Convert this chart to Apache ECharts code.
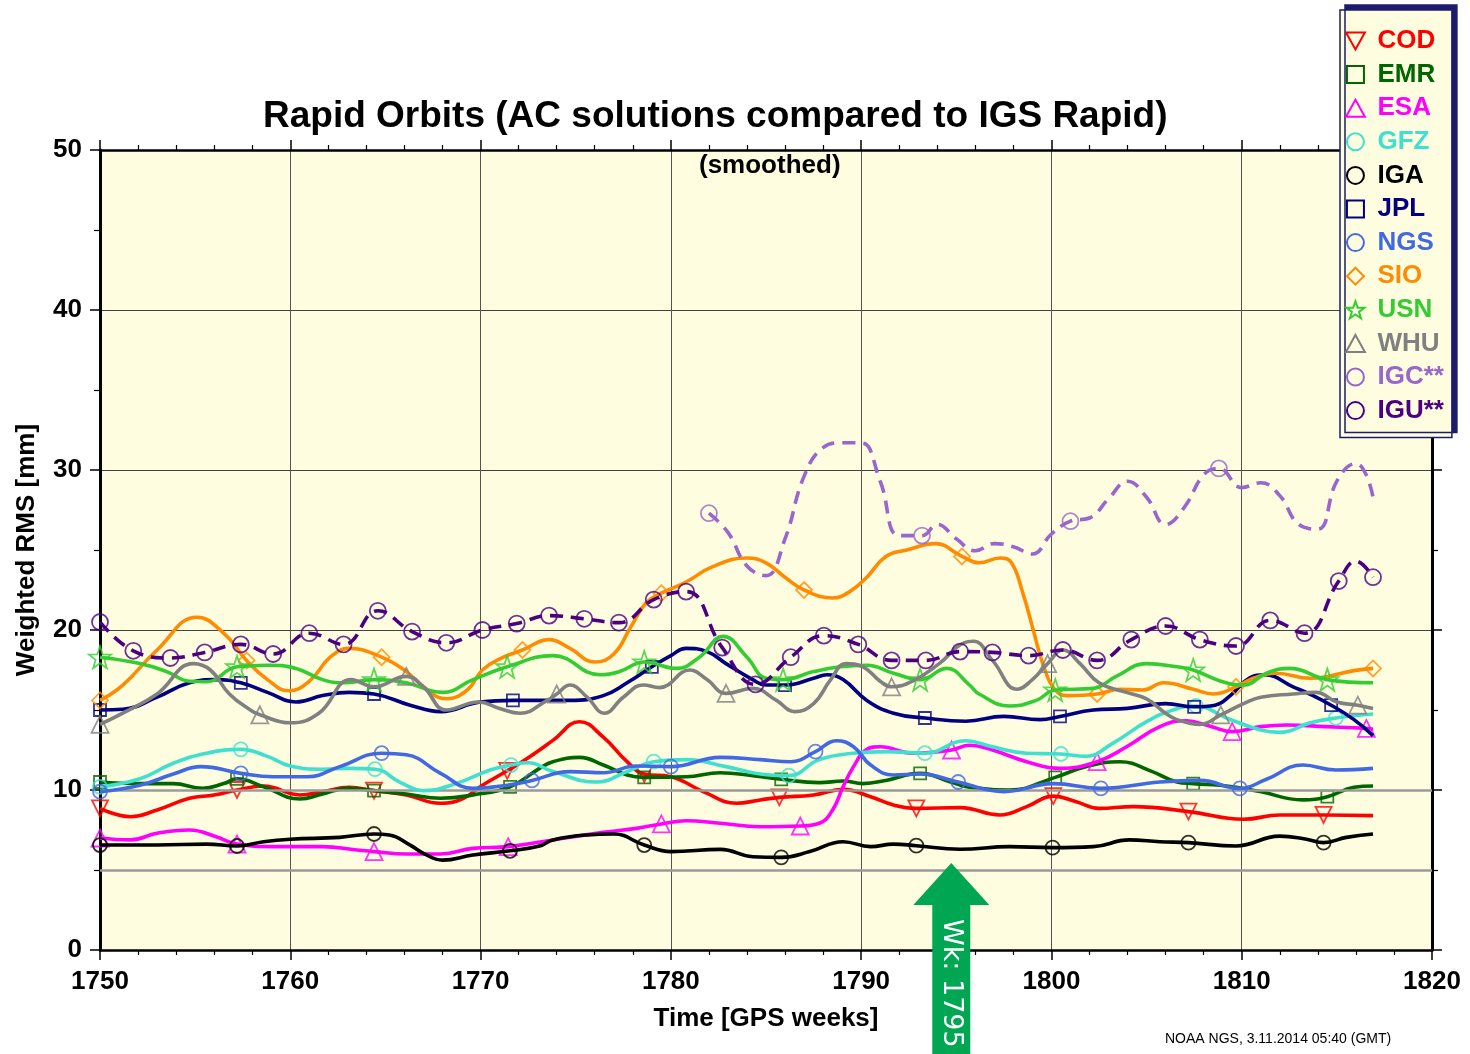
<!DOCTYPE html>
<html>
<head>
<meta charset="utf-8">
<script src="https://cdn.jsdelivr.net/npm/echarts@6/dist/echarts.min.js"></script>
<style>
  html, body { margin: 0; padding: 0; background: #fff; }
  #chart { width: 1470px; height: 1054px; }
</style>
</head>
<body>
<div id="chart"></div>
<script>
// Weighted RMS [mm] against GPS week.
// Each series: smoothed curve points, plus the weeks where a marker sits.
const codLine = [[1750, 8.85], [1751.6, 8.33], [1753, 8.75], [1754.7, 9.48], [1756, 9.69], [1757.2, 10.0], [1758.6, 10.25], [1760.5, 9.69], [1761.7, 9.9], [1763.1, 10.17], [1764.4, 9.96], [1766.1, 9.69], [1767.9, 9.17], [1769.1, 9.48], [1770.1, 10.3], [1771.4, 11.2], [1772.1, 11.7], [1773.1, 12.5], [1773.8, 13.1], [1775.2, 14.27], [1776.45, 13.3], [1777.7, 11.77], [1778.6, 11.0], [1780, 10.83], [1781.7, 9.9], [1783.45, 9.17], [1784.7, 9.38], [1785.7, 9.54], [1787.5, 9.69], [1789.05, 10.04], [1790.5, 9.58], [1791.7, 9.06], [1792.9, 8.85], [1795.2, 8.9], [1797.3, 8.44], [1798.7, 8.96], [1800.1, 9.62], [1801.3, 9.27], [1802.5, 8.85], [1804.3, 8.96], [1807.2, 8.65], [1810.1, 8.17], [1812, 8.44], [1814.3, 8.44], [1816.9, 8.4]];
const codMarks = [1750, 1757.2, 1764.4, 1771.4, 1778.6, 1785.7, 1792.9, 1800.1, 1807.2, 1814.3];

const emrLine = [[1750, 10.5], [1752.1, 10.4], [1753.85, 10.4], [1755.4, 10.1], [1756.5, 10.4], [1757.2, 10.7], [1758.6, 10.2], [1760.5, 9.44], [1761.7, 9.75], [1763, 10.1], [1764.4, 9.96], [1766.1, 9.75], [1767.9, 9.48], [1769.6, 9.69], [1771.55, 10.2], [1773.1, 11.35], [1773.8, 11.77], [1775.2, 12.04], [1776.45, 11.56], [1777.7, 10.94], [1778.6, 10.79], [1780.8, 10.83], [1782.6, 11.08], [1784.3, 10.9], [1785.8, 10.67], [1787.8, 10.46], [1789.05, 10.56], [1790.1, 10.4], [1791.3, 10.6], [1793.1, 11.04], [1794.7, 10.5], [1795.7, 10.17], [1797.8, 10.0], [1800.2, 10.79], [1801.8, 11.46], [1803.6, 11.77], [1805.3, 11.15], [1806.6, 10.5], [1807.45, 10.4], [1809.2, 10.25], [1810.96, 9.9], [1813.2, 9.38], [1814.5, 9.58], [1815.9, 10.17], [1816.9, 10.25]];
const emrMarks = [1750, 1757.2, 1764.4, 1771.55, 1778.6, 1785.8, 1793.1, 1800.2, 1807.45, 1814.5];

const esaLine = [[1750, 7.0], [1751.6, 6.88], [1753, 7.3], [1754.7, 7.5], [1756.1, 7.08], [1757.2, 6.62], [1759.1, 6.46], [1761.7, 6.46], [1763.5, 6.25], [1764.4, 6.15], [1766.1, 6.0], [1767.9, 6.0], [1769.6, 6.35], [1771.45, 6.46], [1773.8, 6.88], [1776.45, 7.35], [1778.2, 7.6], [1779.5, 7.88], [1780.8, 8.08], [1782.6, 7.92], [1784.7, 7.7], [1786.8, 7.75], [1787.8, 7.92], [1788.5, 8.75], [1789.05, 10.2], [1789.6, 11.46], [1790.3, 12.54], [1791, 12.7], [1792.7, 12.3], [1794.75, 12.5], [1795.7, 12.8], [1796.9, 12.5], [1798.7, 11.77], [1800.45, 11.35], [1802.4, 11.77], [1803.95, 12.7], [1805.7, 13.96], [1807.1, 14.33], [1808.3, 14.0], [1809.5, 13.65], [1811, 13.96], [1812.35, 14.06], [1814.45, 13.96], [1816.55, 13.85], [1816.9, 13.8]];
const esaMarks = [1750, 1757.2, 1764.4, 1771.45, 1779.5, 1786.8, 1794.75, 1802.4, 1809.5, 1816.55];

const gfzLine = [[1750, 10.2], [1752.1, 10.7], [1753.85, 11.67], [1755.6, 12.3], [1757.4, 12.54], [1758.8, 12.1], [1760, 11.5], [1761.7, 11.3], [1763.1, 11.35], [1764.45, 11.3], [1765.8, 10.46], [1767, 9.96], [1768.7, 10.4], [1770.5, 11.25], [1771.6, 11.56], [1772.5, 11.7], [1773.8, 11.15], [1776.1, 10.5], [1777.7, 11.15], [1779.1, 11.77], [1780.8, 11.9], [1782.9, 11.46], [1784.7, 11.0], [1786.2, 10.9], [1787.8, 11.9], [1789.6, 12.3], [1791.3, 12.4], [1793.35, 12.3], [1795.5, 13.08], [1796.9, 12.7], [1798.7, 12.3], [1800.5, 12.25], [1801.8, 12.1], [1803.2, 12.9], [1805, 14.27], [1806.4, 15.0], [1807.6, 15.25], [1809.2, 14.5], [1811, 13.75], [1812, 13.6], [1813.6, 14.2], [1814.95, 14.5], [1816.9, 14.75]];
const gfzMarks = [1750, 1757.4, 1764.45, 1771.6, 1779.1, 1786.2, 1793.35, 1800.5, 1807.6, 1814.95];

const igaLine = [[1750, 6.56], [1753, 6.56], [1755.6, 6.62], [1757.2, 6.5], [1758.6, 6.77], [1760, 6.92], [1762.6, 7.04], [1764.4, 7.25], [1765.2, 7.19], [1766.3, 6.56], [1767, 6.04], [1768, 5.62], [1769.6, 5.94], [1771.55, 6.2], [1773.1, 6.5], [1773.8, 6.88], [1775.6, 7.19], [1777, 7.25], [1778.6, 6.56], [1780, 6.15], [1782.6, 6.29], [1784.3, 5.83], [1785.8, 5.79], [1787.3, 6.15], [1789.05, 6.77], [1790.5, 6.46], [1791.7, 6.62], [1792.9, 6.52], [1795.2, 6.3], [1797.8, 6.46], [1800.06, 6.4], [1802.2, 6.46], [1804.1, 6.88], [1805.7, 6.77], [1807.2, 6.71], [1809.7, 6.5], [1812, 7.12], [1813.4, 6.92], [1814.3, 6.71], [1815.5, 7.04], [1816.9, 7.25]];
const igaMarks = [1750, 1757.2, 1764.4, 1771.55, 1778.6, 1785.8, 1792.9, 1800.06, 1807.2, 1814.3];

const jplLine = [[1750, 15.0], [1751.2, 15.05], [1753, 15.8], [1754.7, 16.7], [1756.1, 16.9], [1757.4, 16.7], [1758.8, 16.1], [1760.3, 15.5], [1761.7, 15.9], [1763.1, 16.1], [1764.4, 16.0], [1766.3, 15.3], [1767.9, 14.9], [1770, 15.5], [1771.7, 15.6], [1774.7, 15.6], [1776.45, 15.9], [1777.7, 16.7], [1779, 17.7], [1780, 18.4], [1780.8, 18.85], [1781.9, 18.65], [1782.9, 17.9], [1784.3, 16.9], [1785, 16.56], [1786, 16.56], [1787.5, 16.98], [1788.2, 17.2], [1789.05, 16.9], [1790.3, 15.6], [1791.7, 14.8], [1793.35, 14.5], [1795.5, 14.3], [1797.5, 14.6], [1799.4, 14.4], [1800.45, 14.6], [1802.2, 15.0], [1804, 15.1], [1806, 15.4], [1807.5, 15.2], [1808.6, 15.3], [1809.4, 15.9], [1810.4, 17.0], [1811.2, 17.2], [1812.7, 16.45], [1813.75, 15.9], [1814.7, 15.3], [1815.9, 14.4], [1816.9, 13.4]];
const jplMarks = [1750, 1757.4, 1764.4, 1771.7, 1779, 1786, 1793.35, 1800.45, 1807.5, 1814.7];

const ngsLine = [[1750, 9.9], [1752.1, 10.3], [1753.85, 11.0], [1755.3, 11.46], [1757.4, 11.04], [1759.1, 10.83], [1760.9, 10.83], [1762.6, 11.46], [1764.8, 12.3], [1766.1, 12.2], [1767.9, 11.04], [1769.6, 10.1], [1771.4, 10.3], [1772.7, 10.6], [1774.7, 11.15], [1776.45, 11.08], [1778.2, 11.5], [1780, 11.46], [1782.6, 12.04], [1784.7, 11.9], [1786.3, 11.77], [1787.6, 12.4], [1788.7, 13.08], [1789.6, 12.7], [1790.5, 11.56], [1791.7, 10.94], [1793.1, 11.0], [1795.1, 10.5], [1797.5, 9.9], [1800.1, 10.4], [1802.6, 10.1], [1805.7, 10.5], [1807.8, 10.6], [1809.9, 10.1], [1811.3, 10.67], [1813.2, 11.56], [1814.95, 11.25], [1816.9, 11.35]];
const ngsMarks = [1750, 1757.4, 1764.8, 1772.7, 1780, 1787.6, 1795.1, 1802.6, 1809.9];

const sioLine = [[1750, 15.6], [1751.2, 16.56], [1753, 18.75], [1755.1, 20.8], [1756.5, 19.8], [1757.7, 18.1], [1758.8, 16.9], [1759.9, 16.2], [1761, 16.8], [1762.1, 18.3], [1763.1, 18.85], [1764.8, 18.3], [1766.1, 17.4], [1767, 16.45], [1768.2, 15.7], [1769.3, 16.25], [1770.1, 17.5], [1771.2, 18.3], [1772.2, 18.75], [1773.6, 19.4], [1774.7, 18.85], [1776, 18.0], [1777, 18.5], [1777.9, 20.2], [1778.7, 21.7], [1779.5, 22.3], [1780.8, 23.0], [1782.2, 23.96], [1784, 24.5], [1785, 24.2], [1786.1, 23.2], [1787, 22.5], [1788.5, 22.0], [1789.4, 22.4], [1790.3, 23.3], [1791.3, 24.6], [1792.4, 25.0], [1793.9, 25.4], [1795.3, 24.6], [1796.2, 24.2], [1797.3, 24.5], [1797.9, 24.2], [1798.5, 22.3], [1799, 20.2], [1799.6, 17.7], [1800.2, 16.25], [1800.8, 15.9], [1802.4, 16.0], [1803.6, 16.3], [1804.8, 16.25], [1805.9, 16.7], [1807.45, 16.3], [1808.5, 16.0], [1809.7, 16.45], [1810.6, 16.98], [1811.8, 17.3], [1813.6, 16.98], [1814.5, 17.1], [1815.9, 17.46], [1816.9, 17.6]];
const sioMarks = [1750, 1757.7, 1764.8, 1772.2, 1779.5, 1787, 1795.3, 1802.4, 1809.7, 1816.9];

const usnLine = [[1750, 18.3], [1752.1, 17.9], [1753.5, 17.4], [1754.7, 16.8], [1755.6, 16.77], [1757.2, 17.7], [1758.8, 17.8], [1760.3, 17.6], [1761.7, 16.9], [1762.8, 16.7], [1764.4, 16.9], [1766.1, 16.7], [1768, 16.1], [1769.6, 16.9], [1771.4, 17.7], [1773.8, 18.4], [1776.3, 17.2], [1777.3, 17.4], [1778.6, 18.0], [1780.3, 17.6], [1781.5, 18.3], [1782.75, 19.6], [1784, 18.3], [1785, 16.98], [1785.9, 16.9], [1787.5, 17.4], [1788.9, 17.7], [1790.3, 17.8], [1791.7, 17.3], [1793.1, 16.9], [1794.5, 17.6], [1795.7, 16.56], [1796.2, 16.0], [1797.8, 15.25], [1799.2, 15.6], [1800.2, 16.25], [1802.2, 16.35], [1803.4, 17.1], [1805, 17.9], [1806.6, 17.7], [1807.45, 17.5], [1808.9, 16.8], [1810.1, 16.56], [1811.3, 17.3], [1812.5, 17.6], [1814.5, 16.9], [1816.9, 16.7]];
const usnMarks = [1750, 1757.2, 1764.4, 1771.4, 1778.6, 1785.9, 1793.1, 1800.2, 1807.45, 1814.5];

const whuLine = [[1750, 14.1], [1751.2, 14.8], [1753, 16.0], [1754.9, 17.9], [1755.8, 17.5], [1756.8, 16.0], [1757.9, 15.0], [1758.4, 14.7], [1760, 14.2], [1761.5, 14.8], [1763.2, 16.9], [1764.4, 16.45], [1766.1, 17.1], [1767, 16.45], [1768.2, 15.0], [1769.9, 15.5], [1771, 15.1], [1772.07, 14.8], [1773.5, 15.6], [1774, 16.0], [1774.7, 16.56], [1775.6, 15.8], [1776.5, 14.8], [1777.5, 15.8], [1778.55, 16.56], [1779.4, 16.4], [1781, 17.5], [1781.9, 16.9], [1782.9, 16.04], [1784.3, 16.35], [1785.55, 15.6], [1786.5, 14.9], [1787.5, 15.4], [1788.4, 16.9], [1789.2, 17.9], [1790.1, 17.7], [1791, 16.8], [1791.6, 16.45], [1792.7, 16.8], [1794.1, 17.9], [1795.4, 19.2], [1795.9, 19.3], [1796.9, 18.1], [1798.2, 16.3], [1799, 16.9], [1799.8, 17.9], [1800.6, 18.75], [1801.5, 17.9], [1802.5, 16.7], [1803.95, 16.1], [1805, 15.7], [1806, 14.8], [1806.6, 14.4], [1807.8, 14.1], [1808.9, 14.7], [1810.1, 15.4], [1811, 15.8], [1812.7, 16.0], [1813.9, 16.1], [1815, 15.5], [1816.1, 15.3], [1816.9, 15.1]];
const whuMarks = [1750, 1758.4, 1766.1, 1774, 1782.9, 1791.6, 1799.8, 1808.9, 1816.1];

const igcLine = [[1782, 27.3], [1783, 26.1], [1784, 24.0], [1785, 23.4], [1786, 25.7], [1787, 29.6], [1788, 31.4], [1789, 31.7], [1790, 31.7], [1791, 29.3], [1792, 25.9], [1793.2, 25.9], [1794, 26.6], [1795, 25.7], [1796, 24.95], [1797, 25.4], [1798, 25.2], [1799, 24.75], [1800, 26.0], [1801, 26.8], [1802, 27.0], [1803, 28.2], [1804, 29.3], [1805, 28.3], [1806, 26.6], [1807, 27.7], [1808, 29.7], [1808.8, 30.1], [1810, 28.9], [1811, 29.2], [1812, 28.4], [1813, 26.6], [1814, 26.3], [1815, 29.3], [1816, 30.4], [1816.5, 29.8], [1816.9, 28.3]];
const igcMarks = [1782, 1793.2, 1801, 1808.8];

const iguLine = [[1750, 20.5], [1751.75, 18.7], [1753.7, 18.25], [1755.5, 18.6], [1757.4, 19.1], [1759.1, 18.5], [1761, 19.8], [1762.8, 19.1], [1764.6, 21.2], [1766.4, 19.9], [1768.2, 19.2], [1770.1, 20.0], [1771.9, 20.4], [1773.6, 20.9], [1775.45, 20.7], [1777.27, 20.46], [1779.1, 21.9], [1780.8, 22.4], [1782.7, 18.9], [1784.45, 16.6], [1786.3, 18.3], [1788.04, 19.65], [1789.85, 19.1], [1791.6, 18.1], [1793.4, 18.1], [1795.2, 18.65], [1796.9, 18.6], [1798.8, 18.4], [1800.6, 18.75], [1802.4, 18.1], [1804.2, 19.4], [1806, 20.25], [1807.8, 19.4], [1809.7, 19.0], [1811.5, 20.6], [1813.3, 19.8], [1815.1, 23.06], [1816, 24.3], [1816.9, 23.3]];
const iguMarks = [1750, 1751.75, 1753.7, 1755.5, 1757.4, 1759.1, 1761, 1762.8, 1764.6, 1766.4, 1768.2, 1770.1, 1771.9, 1773.6, 1775.45, 1777.27, 1779.1, 1780.8, 1782.7, 1784.45, 1786.3, 1788.04, 1789.85, 1791.6, 1793.4, 1795.2, 1796.9, 1798.8, 1800.6, 1802.4, 1804.2, 1806, 1807.8, 1809.7, 1811.5, 1813.3, 1815.1, 1816.9];

const acNames = ["COD", "EMR", "ESA", "GFZ", "IGA", "JPL", "NGS", "SIO", "USN", "WHU", "IGC**", "IGU**"];
const xTicks = [1750, 1820, 10];
const yTicks = [0, 50, 10];
const arrowWeek = 1795;

const STAR = "path://M0,-10L2.35,-3.24L9.51,-3.09L3.8,1.24L5.88,8.09L0,4L-5.88,8.09L-3.8,1.24L-9.51,-3.09L-2.35,-3.24Z";
const TRI_DOWN = "path://M-10,-8L10,-8L0,10Z";
const TRI_UP = "path://M0,-10L10,8L-10,8Z";
const SQUARE = "path://M-5,-5L5,-5L5,5L-5,5Z";
const RING = "path://M0,-6A6,6 0 1 1 0,6A6,6 0 1 1 0,-6Z";
const DIAMOND = "path://M0,-8L8,0L0,8L-8,0Z";

const styles = [
  { line: codLine, marks: codMarks, color: "#ff0000", symbol: TRI_DOWN, size: 16 },
  { line: emrLine, marks: emrMarks, color: "#006600", symbol: SQUARE, size: 12 },
  { line: esaLine, marks: esaMarks, color: "#ff00ff", symbol: TRI_UP, size: 17 },
  { line: gfzLine, marks: gfzMarks, color: "#40e0d0", symbol: RING, size: 14 },
  { line: igaLine, marks: igaMarks, color: "#000000", symbol: RING, size: 14 },
  { line: jplLine, marks: jplMarks, color: "#000080", symbol: SQUARE, size: 12 },
  { line: ngsLine, marks: ngsMarks, color: "#4169e1", symbol: RING, size: 14 },
  { line: sioLine, marks: sioMarks, color: "#ff8c00", symbol: DIAMOND, size: 16 },
  { line: usnLine, marks: usnMarks, color: "#33cc33", symbol: STAR, size: 22 },
  { line: whuLine, marks: whuMarks, color: "#808080", symbol: TRI_UP, size: 17 },
  { line: igcLine, marks: igcMarks, color: "#9966cc", symbol: RING, size: 16, dashed: true },
  { line: iguLine, marks: iguMarks, color: "#4b0082", symbol: RING, size: 16, dashed: true },
];

const chart = echarts.init(document.getElementById("chart"));
const FONT = "Liberation Sans";

const series = [
  // grey reference lines at 5 and 10 mm, under the curves
  {
    type: "line", data: [], silent: true, z: 1,
    markLine: {
      silent: true, symbol: "none", label: { show: false },
      lineStyle: { color: "#9a9a9a", width: 2.5, type: "solid" },
      data: [{ yAxis: 5 }, { yAxis: 10 }],
    },
  },
];

acNames.forEach((name, i) => {
  const s = styles[i];
  series.push({
    name, type: "line", data: s.line, smooth: 0.45, showSymbol: false,
    lineStyle: { color: s.color, width: 3.6, type: s.dashed ? [13, 8] : "solid" },
    itemStyle: { color: s.color }, z: 3 + i, silent: true,
  });
  series.push({
    name, type: "scatter", symbol: s.symbol, symbolSize: s.size,
    data: s.line.filter((p) => s.marks.includes(p[0])),
    itemStyle: { color: "rgba(0,0,0,0)", borderColor: s.color, borderWidth: 1.8 },
    z: 3 + i, silent: true,
  });
});

const tickAxis = {
  type: "value", min: xTicks[0], max: xTicks[1], interval: xTicks[2],
  axisLine: { show: true, onZero: false, lineStyle: { color: "#000", width: 2.5 } },
  axisTick: { show: true, length: 10, lineStyle: { color: "#000", width: 1.5 } },
  minorTick: { show: true, splitNumber: 5, length: 5, lineStyle: { color: "#000", width: 1.2 } },
};

chart.setOption({
  animation: false,
  backgroundColor: "#ffffff",
  textStyle: { fontFamily: FONT },
  title: {
    text: "Rapid Orbits (AC solutions compared to IGS Rapid)",
    left: 258, top: 93,
    textStyle: { fontFamily: FONT, fontSize: 37, fontWeight: "bold", color: "#000" },
  },
  grid: {
    left: 100, right: 38, top: 150, bottom: 104,
    show: true, backgroundColor: "#fffde0", borderWidth: 0,
  },
  legend: {
    orient: "vertical", left: 1340, top: 10,
    padding: [18, 8, 14, 5],
    itemWidth: 22, itemHeight: 17, itemGap: 7.6,
    backgroundColor: "#fffde0", borderColor: "#1c1c6b", borderWidth: 1.5,
    shadowColor: "#1c1c6b", shadowBlur: 0, shadowOffsetX: 5, shadowOffsetY: -5,
    textStyle: { fontFamily: FONT, fontSize: 26, fontWeight: "bold", lineHeight: 26, padding: [0, 0, 0, 6] },
    data: acNames.map((name, i) => ({
      name,
      icon: styles[i].symbol,
      itemStyle: { color: "rgba(0,0,0,0)", borderColor: styles[i].color, borderWidth: 2 },
      textStyle: { color: styles[i].color },
    })),
  },
  xAxis: [
    Object.assign({}, tickAxis, {
      position: "bottom",
      name: "Time [GPS weeks]", nameLocation: "middle", nameGap: 56,
      nameTextStyle: { fontFamily: FONT, fontSize: 26, fontWeight: "bold", color: "#000" },
      axisLabel: { fontFamily: FONT, fontSize: 26, fontWeight: "bold", color: "#000", margin: 19, formatter: (v) => String(v) },
      splitLine: { show: true, lineStyle: { color: "#555", width: 1 } },
    }),
    Object.assign({}, tickAxis, {
      position: "top", axisLabel: { show: false }, splitLine: { show: false },
    }),
  ],
  yAxis: [
    {
      type: "value", min: yTicks[0], max: yTicks[1], interval: yTicks[2], position: "left",
      name: "Weighted RMS [mm]", nameLocation: "middle", nameGap: 60,
      nameTextStyle: { fontFamily: FONT, fontSize: 26, fontWeight: "bold", color: "#000" },
      axisLine: { show: true, lineStyle: { color: "#000", width: 3 } },
      axisTick: { show: true, length: 10, lineStyle: { color: "#000", width: 1.5 } },
      minorTick: { show: true, splitNumber: 2, length: 6, lineStyle: { color: "#000", width: 1.2 } },
      axisLabel: { fontFamily: FONT, fontSize: 26, fontWeight: "bold", color: "#000", margin: 18 },
      splitLine: { show: true, lineStyle: { color: "#444", width: 1 } },
    },
    {
      type: "value", min: yTicks[0], max: yTicks[1], interval: yTicks[2], position: "right",
      axisLine: { show: true, lineStyle: { color: "#000", width: 3 } },
      axisTick: { show: true, length: 10, lineStyle: { color: "#000", width: 1.5 } },
      minorTick: { show: true, splitNumber: 2, length: 6, lineStyle: { color: "#000", width: 1.2 } },
      axisLabel: { show: false }, splitLine: { show: false },
    },
  ],
  series,
});

// "(smoothed)" note, time stamp and the green week arrow
const ax = chart.convertToPixel({ xAxisIndex: 0 }, arrowWeek) - 5;
chart.setOption({
  graphic: [
    {
      type: "text", left: 699, top: 153, z: 50,
      style: { text: "(smoothed)", font: "bold 26px " + FONT, fill: "#000" },
    },
    {
      type: "text", left: 1165, top: 1032, z: 50,
      style: { text: "NOAA NGS, 3.11.2014 05:40 (GMT)", font: "14px " + FONT, fill: "#000" },
    },
    {
      type: "polygon", z: 60,
      shape: { points: [[ax, 863], [ax + 38, 905], [ax + 19, 905], [ax + 19, 1060], [ax - 19, 1060], [ax - 19, 905], [ax - 38, 905]] },
      style: { fill: "#00a651" },
    },
    {
      type: "text", x: ax, y: 919, rotation: -Math.PI / 2, z: 61,
      style: { text: "Wk: 1795", font: "27px DejaVu Sans", fill: "#ffffff", align: "left", verticalAlign: "middle" },
    },
  ],
});
</script>
</body>
</html>
